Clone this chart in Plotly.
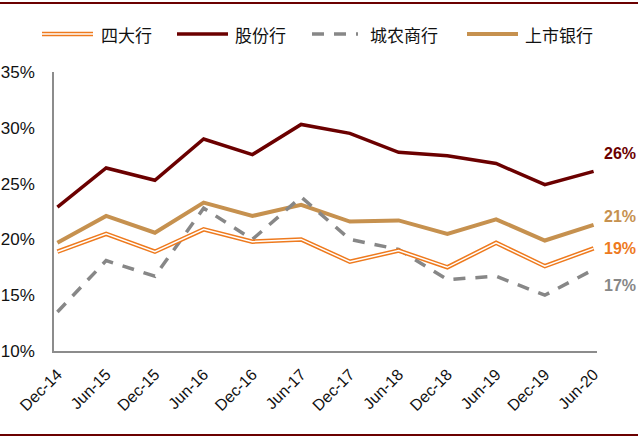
import plotly.graph_objects as go

categories = ["Dec-14", "Jun-15", "Dec-15", "Jun-16", "Dec-16", "Jun-17",
              "Dec-17", "Jun-18", "Dec-18", "Jun-19", "Dec-19", "Jun-20"]
big4 = [18.9, 20.5, 18.9, 20.9, 19.8, 20.0, 18.0, 19.0, 17.5, 19.7, 17.6, 19.2]
joint_stock = [22.9, 26.4, 25.3, 29.0, 27.6, 30.3, 29.5, 27.8, 27.5, 26.8, 24.9, 26.1]
rural_city = [13.5, 18.1, 16.7, 22.8, 20.0, 23.8, 20.0, 19.1, 16.4, 16.7, 15.0, 17.3]
listed = [19.7, 22.1, 20.6, 23.3, 22.1, 23.1, 21.6, 21.7, 20.5, 21.8, 19.9, 21.3]
names = ["四大行", "股份行", "城农商行", "上市银行"]
yticks = [10, 15, 20, 25, 30, 35]

C_ORANGE = "#EE7A1E"
C_RED = "#6B0000"
C_GRAY = "#878787"
C_GOLD = "#C6914F"

fig = go.Figure()
fig.add_trace(go.Scatter(x=categories, y=listed, mode="lines",
                         line=dict(color=C_GOLD, width=4), showlegend=False))
fig.add_trace(go.Scatter(x=categories, y=rural_city, mode="lines",
                         line=dict(color=C_GRAY, width=3.5, dash="12px,10px"), showlegend=False))
fig.add_trace(go.Scatter(x=categories, y=big4, mode="lines",
                         line=dict(color=C_ORANGE, width=4.5), showlegend=False))
fig.add_trace(go.Scatter(x=categories, y=big4, mode="lines",
                         line=dict(color="white", width=1.5), showlegend=False))
fig.add_trace(go.Scatter(x=categories, y=joint_stock, mode="lines",
                         line=dict(color=C_RED, width=3.5), showlegend=False))

# end labels
ends = [(joint_stock, C_RED, 18), (listed, C_GOLD, 8), (big4, C_ORANGE, 0), (rural_city, C_GRAY, -16)]
for series, col, ys in ends:
    fig.add_annotation(x=categories[-1], y=series[-1], text=f"{round(series[-1])}%",
                       showarrow=False, xshift=26, yshift=ys,
                       font=dict(family="Liberation Sans, Arial", size=16, color=col, weight="bold"))

# manual legend (paper coords)
ax0, ax1 = 54, 597
ay0, ay1 = 351, 72
def px(x):
    return (x - ax0) / (ax1 - ax0)
def py(y):
    return (ay0 - y) / (ay0 - ay1)

shapes = []
ly = py(34)
leg = [
    (42, 93, 99, "orange"),
    (177, 228, 233, "red"),
    (312, 358, 368, "gray"),
    (467, 518, 523, "gold"),
]
styles = {
    "orange": [dict(color=C_ORANGE, width=4.5), dict(color="white", width=1.5)],
    "red": [dict(color=C_RED, width=3.5)],
    "gray": [dict(color=C_GRAY, width=3.5, dash="12px,10px")],
    "gold": [dict(color=C_GOLD, width=4)],
}
for (x0, x1, tx, key), name in zip(leg, names):
    for st in styles[key]:
        shapes.append(dict(type="line", xref="paper", yref="paper",
                           x0=px(x0), x1=px(x1), y0=ly, y1=ly, line=st))
    fig.add_annotation(xref="paper", yref="paper", x=px(tx), y=ly, text=name,
                       showarrow=False, xanchor="left", yanchor="middle",
                       font=dict(family="Noto Sans CJK SC", size=17, color="#111111"))

# top/bottom border lines
for yy in (3, 435):
    shapes.append(dict(type="line", xref="paper", yref="paper",
                       x0=px(0), x1=px(638), y0=py(yy), y1=py(yy),
                       line=dict(color=C_RED, width=2)))

fig.update_layout(
    width=638, height=438,
    margin=dict(l=54, r=41, t=72, b=87),
    paper_bgcolor="white", plot_bgcolor="white",
    shapes=shapes,
    showlegend=False,
    font=dict(family="Liberation Sans, Arial", size=16, color="#111111"),
)
fig.update_xaxes(type="category", range=[-0.07, 11.07], showgrid=False, automargin=False,
                 showline=True, linecolor="#8c8c8c", linewidth=1.5,
                 tickangle=-45, ticks="", ticklabelstandoff=6, tickfont=dict(size=16))
fig.update_yaxes(range=[10, 35], tickvals=yticks, ticktext=[f"{v}%" for v in yticks],
                 showgrid=False, zeroline=False, showline=True, linecolor="#8c8c8c",
                 linewidth=1.5, ticks="", ticklabelstandoff=14, automargin=False,
                 tickfont=dict(size=17))

fig.write_html("out.html", config={"displayModeBar": False},
               post_script="document.body.style.margin='0';document.body.style.overflow='hidden';")
